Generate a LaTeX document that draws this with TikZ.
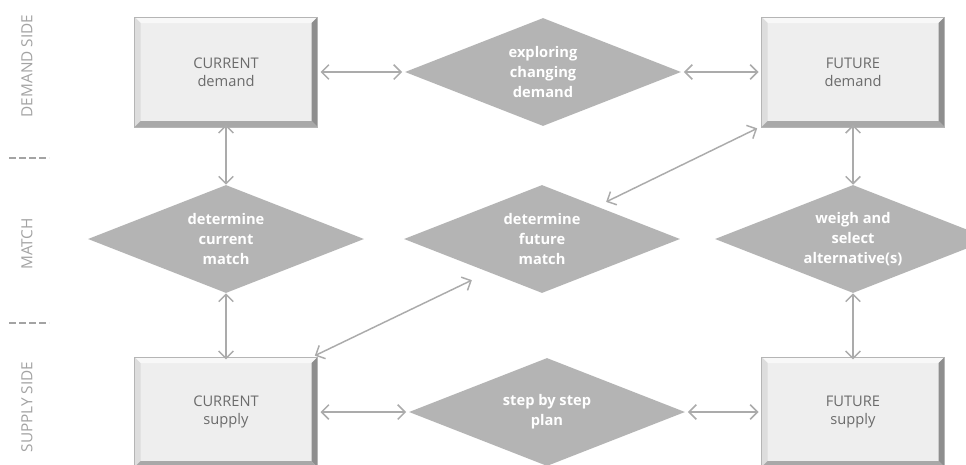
\documentclass[tikz,border=0pt]{standalone}
\usepackage{fontspec}
\setmainfont{Open Sans}
\usetikzlibrary{shapes.geometric,arrows.meta,calc}
\definecolor{boxfill}{HTML}{EEEEEE}
\definecolor{boxedge}{HTML}{B5B5B5}
\definecolor{bevtop}{HTML}{F8F8F8}
\definecolor{bevleft}{HTML}{DDDDDD}
\definecolor{bevright}{HTML}{8E8E8E}
\definecolor{bevbot}{HTML}{A8A8A8}
\definecolor{boxtext}{HTML}{6B6B6B}
\definecolor{dfill}{HTML}{B4B4B4}
\definecolor{arrowc}{HTML}{ABABAB}
\definecolor{sidec}{HTML}{A3A3A3}
\begin{document}
\begin{tikzpicture}[x=0.75pt,y=-0.75pt,
  bevelbox/.style={rectangle, minimum width=137.25pt, minimum height=82.5pt,
    inner sep=0pt, fill=boxfill, draw=boxedge, line width=0.5pt, text=boxtext,
    font=\fontsize{11}{13.5}\selectfont, align=center,
    path picture={
      \fill[bevtop] (path picture bounding box.north west) -- (path picture bounding box.north east)
        -- ([shift={(-4.5pt,-4.5pt)}]path picture bounding box.north east)
        -- ([shift={(4.5pt,-4.5pt)}]path picture bounding box.north west) -- cycle;
      \fill[bevleft] (path picture bounding box.north west) -- (path picture bounding box.south west)
        -- ([shift={(4.5pt,4.5pt)}]path picture bounding box.south west)
        -- ([shift={(4.5pt,-4.5pt)}]path picture bounding box.north west) -- cycle;
      \fill[bevright] (path picture bounding box.north east) -- (path picture bounding box.south east)
        -- ([shift={(-4.5pt,4.5pt)}]path picture bounding box.south east)
        -- ([shift={(-4.5pt,-4.5pt)}]path picture bounding box.north east) -- cycle;
      \fill[bevbot] (path picture bounding box.south west) -- (path picture bounding box.south east)
        -- ([shift={(-4.5pt,4.5pt)}]path picture bounding box.south east)
        -- ([shift={(4.5pt,4.5pt)}]path picture bounding box.south west) -- cycle;
    }},
  decision/.style={diamond, aspect=2.5, minimum width=207pt, minimum height=81pt,
    inner sep=0pt, fill=dfill, text=white, font=\bfseries\fontsize{11}{15}\selectfont,
    align=center},
  link/.style={draw=arrowc, line width=1.1pt,
    {Straight Barb[length=5.5pt,width=11pt]}-{Straight Barb[length=5.5pt,width=11pt]}},
  sidelabel/.style={rotate=90, text=sidec, font=\fontsize{11.5}{13}\selectfont},
  sep/.style={draw=sidec, line width=1.3pt, dash pattern=on 5pt off 2.5pt}
]
\clip (0,0) rectangle (966,464);
\fill[white] (0,0) rectangle (966,464);

% side labels
\node[sidelabel] (lblD) at (27,66) {DEMAND SIDE};
\node[sidelabel] (lblM) at (27,244) {MATCH};
\node[sidelabel] (lblS) at (27,407) {SUPPLY SIDE};
\draw[sep] (9,158) -- (49,158);
\draw[sep] (9,323) -- (49,323);

% boxes
\node[bevelbox] (cd) at (226,72) {CURRENT\\demand};
\node[bevelbox] (fd) at (853,72) {FUTURE\\demand};
\node[bevelbox] (cs) at (226,412) {CURRENT\\supply};
\node[bevelbox] (fs) at (853,412) {FUTURE\\supply};

% diamonds
\node[decision] (ex) at (543,72) {exploring\\changing\\demand};
\node[decision] (cm) at (226,239) {determine\\current\\match};
\node[decision] (fm) at (542,239) {determine\\future\\match};
\node[decision] (ws) at (853,239) {weigh and\\select\\alternative(s)};
\node[decision] (sp) at (547,412) {step by step\\plan};

% connectors
\draw[link] ([xshift=2]cd.east) -- ([xshift=-2]ex.west);
\draw[link] ([xshift=2]ex.east) -- ([xshift=-2]fd.west);
\draw[link] ([xshift=2]cs.east) -- ([xshift=-2]sp.west);
\draw[link] ([xshift=2]sp.east) -- ([xshift=-2]fs.west);
\draw[link] ([yshift=2]cd.south) -- (cm.north);
\draw[link] (cm.south) -- ([yshift=-2]cs.north);
\draw[link] ([yshift=2]fd.south) -- (ws.north);
\draw[link] (ws.south) -- ([yshift=-2]fs.north);
\draw[link] ([shift={(-3,-1)}]cs.north east) -- ([shift={(-1,14)}]fm.south west);
\draw[link] ([shift={(-4,1)}]fd.south west) -- ([shift={(-5,-10)}]fm.north east);
\end{tikzpicture}
\end{document}
